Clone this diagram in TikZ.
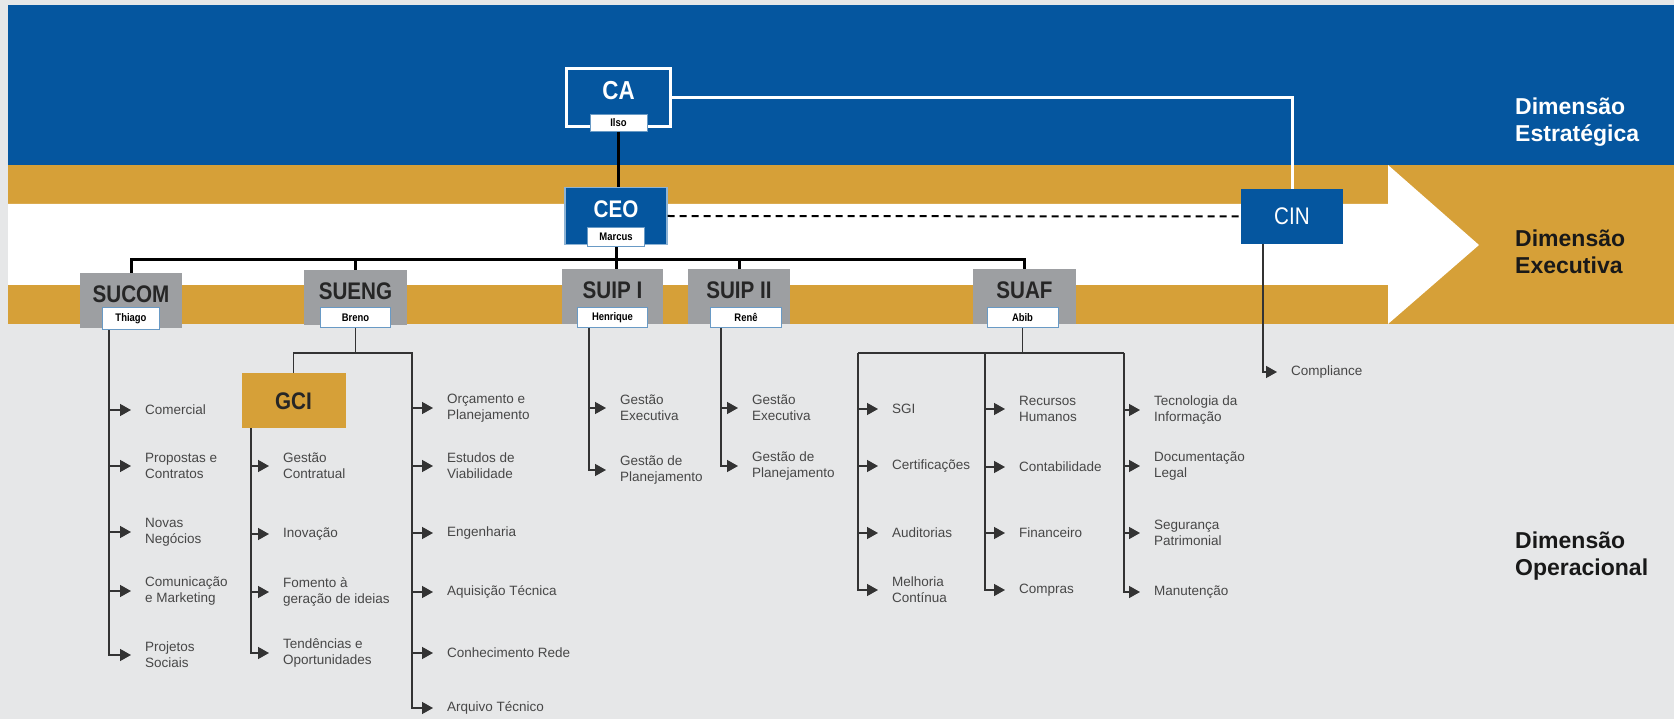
\documentclass[tikz,border=0pt]{standalone}
\usepackage{fontspec}
\setmainfont{Liberation Sans}
\newfontfamily\condfont[FakeStretch=0.86]{Liberation Sans}
\usetikzlibrary{arrows.meta,positioning}

\definecolor{bandblue}{RGB}{5,86,159}
\definecolor{bandgold}{RGB}{214,160,56}
\definecolor{opgrey}{RGB}{230,231,232}
\definecolor{boxgrey}{RGB}{157,159,162}

\begin{document}
\begin{tikzpicture}[
				x = 1pt, y = -1pt, % one unit per pixel, y going down
				> = {Triangle[length=11pt,width=12pt]}, % arrow head style
				unitbox/.style = {minimum width=102pt, minimum height=55pt, inner sep=0pt,
					text height=17pt, text depth=13pt,
					font=\condfont\bfseries\fontsize{24}{24}\selectfont},
				bluebox/.style = {unitbox, fill=bandblue, text=white},
				greybox/.style = {unitbox, fill=boxgrey, text=black!85},
				nametag/.style = {fill=white, draw=bandblue!60, line width=1pt,
					minimum width=57pt, minimum height=20pt, inner sep=0pt,
					font=\condfont\bfseries\fontsize{11}{11}\selectfont},
				item/.style = {anchor=west, align=left, inner sep=0pt, text=black!72,
					font=\fontsize{13.5}{16}\selectfont},
				branch/.style = {line width=1.5pt, draw=black!80},
				tobranch/.style = {branch, ->, shorten >=14pt},
				bus/.style = {line width=3pt},
				dimlabel/.style = {anchor=west, align=left, inner sep=0pt,
					font=\bfseries\fontsize{23}{27}\selectfont}
				]
				
				% bands
				\useasboundingbox (0,0) rectangle (1674,719);
				\fill[opgrey] (0,0) rectangle (1674,719);
				\fill[bandblue] (8,5) rectangle (1674,165);
				\fill[bandgold] (8,165) rectangle (1674,324);
				\fill[white] (8,204) -- (1388,204) -- (1388,165) -- (1479,245)
					-- (1388,324) -- (1388,285) -- (8,285) -- cycle;
				
				\node[dimlabel, text=white] (strat) at (1515,122) {Dimensão\\Estratégica};
				\node[dimlabel, text=black!90] (exec) at (1515,252) {Dimensão\\Executiva};
				\node[dimlabel, text=black!90] (oper) at (1515,556) {Dimensão\\Operacional};
				
				% top of the chart
				\node[bluebox, draw=white, line width=3pt, minimum width=104pt, minimum height=58pt,
					font=\condfont\bfseries\fontsize{26}{26}\selectfont] (ca) at (618.5,97.5) {CA};
				\node[nametag, minimum height=17pt, above=-4pt of ca.south] (ca-tag) {Ilso};
				\node[bluebox, draw=white!55!bandblue, line width=1.2pt, minimum height=57pt] (ceo) at (616,216) {CEO};
				\node[nametag, minimum height=19pt, above=-2pt of ceo.south] (ceo-tag) {Marcus};
				\node[bluebox, text height=17pt, text depth=0pt,
					font=\condfont\fontsize{24}{24}\selectfont] (cin) at (1292,216.5) {CIN};
				
				% superintendences
				\node[greybox] (sucom) at (131,300.5) {SUCOM};
				\node[greybox, minimum width=103pt] (sueng) at (355.5,297.5) {SUENG};
				\node[greybox, minimum width=101pt] (suip1) at (612.5,297) {SUIP I};
				\node[greybox] (suip2) at (739,297) {SUIP II};
				\node[greybox, minimum width=103pt] (suaf) at (1024.5,297) {SUAF};
				\node[nametag, minimum height=22pt, above=-2pt of sucom.south] (sucom-tag) {Thiago};
				\node[nametag, minimum width=70pt, above=-3pt of sueng.south] (sueng-tag) {Breno};
				\node[nametag, minimum width=70pt, above=-3pt of suip1.south] (suip1-tag) {Henrique};
				\node[nametag, minimum width=71pt, above=-3pt of suip2.south, xshift=7pt] (suip2-tag) {Renê};
				\node[nametag, minimum width=71pt, above=-3pt of suaf.south, xshift=-2pt] (suaf-tag) {Abib};
				
				\node[unitbox, fill=bandgold, text=black!85, minimum width=104pt,
					text depth=0pt] (gci) at (293.5,400.5) {GCI};
				
				% areas
				\foreach \n/\y/\t in {com1/410/Comercial, com2/466/{Propostas e\\Contratos},
					com3/532/{Novas\\Negócios}, com4/591/{Comunicação\\e Marketing},
					com5/655/{Projetos\\Sociais}}
					\node[item] (\n) at (145,\y) {\t};
				\foreach \n/\y/\t in {gci1/466/{Gestão\\Contratual}, gci2/534/Inovação,
					gci3/592/{Fomento à\\geração de ideias}, gci4/653/{Tendências e\\Oportunidades}}
					\node[item] (\n) at (283,\y) {\t};
				\foreach \n/\y/\t in {eng1/408/{Orçamento e\\Planejamento}, eng2/466/{Estudos de\\Viabilidade},
					eng3/533/Engenharia, eng4/592/Aquisição Técnica,
					eng5/653/Conhecimento Rede, eng6/708/Arquivo Técnico}
					\node[item] (\n) at (447,\y) {\t};
				\foreach \n/\y/\t in {ipa1/408/{Gestão\\Executiva}, ipa2/470/{Gestão de\\Planejamento}}
					\node[item] (\n) at (620,\y) {\t};
				\foreach \n/\y/\t in {ipb1/408/{Gestão\\Executiva}, ipb2/466/{Gestão de\\Planejamento}}
					\node[item] (\n) at (752,\y) {\t};
				\foreach \n/\y/\t in {afa1/409/SGI, afa2/466/Certificações,
					afa3/533/Auditorias, afa4/590/{Melhoria\\Contínua}}
					\node[item] (\n) at (892,\y) {\t};
				\foreach \n/\y/\t in {afb1/409/{Recursos\\Humanos}, afb2/467/Contabilidade,
					afb3/533/Financeiro, afb4/590/Compras}
					\node[item] (\n) at (1019,\y) {\t};
				\foreach \n/\y/\t in {afc1/410/{Tecnologia da\\Informação}, afc2/466/{Documentação\\Legal},
					afc3/533/{Segurança\\Patrimonial}, afc4/592/Manutenção}
					\node[item] (\n) at (1154,\y) {\t};
				\node[item] (compliance) at (1291,372) {Compliance};
				
				% links at the top
				\draw[line width=2.5pt] (ca-tag.south) -- (ca-tag.south |- ceo.north);
				\draw[white, line width=3pt] (ca.east) -| (cin.north);
				\draw[line width=2pt, dash pattern=on 7pt off 5pt] (ceo.east) -- (cin.west);
				\draw[bus] (sucom.north) -- ++(0,-13) coordinate (bus) -| (suaf.north);
				\draw[bus] (ceo-tag.south) -- (ceo-tag.south |- suip1.north);
				\foreach \n in {sueng, suip2}
					\draw[bus] (\n.north) -- (\n.north |- bus);
				
				% links to the areas
				\draw[tobranch] (sucom-tag.south -| 109,0) |- (com5.west);
				\foreach \n in {com1, com2, com3, com4}
					\draw[tobranch] (109,0 |- \n.west) -- (\n.west);
				
				\draw[branch] (sueng-tag.south) -- (sueng-tag.south |- 0,353);
				\draw[tobranch] (gci.north) |- (412,353) |- (eng6.west);
				\foreach \n in {eng1, eng2, eng3, eng4, eng5}
					\draw[tobranch] (412,0 |- \n.west) -- (\n.west);
				\draw[tobranch] (gci.south -| 251,0) |- (gci4.west);
				\foreach \n in {gci1, gci2, gci3}
					\draw[tobranch] (251,0 |- \n.west) -- (\n.west);
				
				\draw[tobranch] (suip1-tag.south -| 589,0) |- (ipa2.west);
				\draw[tobranch] (589,0 |- ipa1.west) -- (ipa1.west);
				\draw[tobranch] (suip2-tag.south -| 721,0) |- (ipb2.west);
				\draw[tobranch] (721,0 |- ipb1.west) -- (ipb1.west);
				
				\draw[branch] (suaf-tag.south) -- (suaf-tag.south |- 0,353);
				\draw[branch] (858,353) -- (1124,353);
				\foreach \x/\c in {858/afa, 985/afb, 1124/afc} {
					\draw[tobranch] (\x,353) |- (\c4.west);
					\foreach \i in {1,2,3}
						\draw[tobranch] (\x,0 |- \c\i.west) -- (\c\i.west);
				}
				
				\draw[tobranch] (cin.south -| 1263,0) |- (compliance.west);
				
			\end{tikzpicture}
\end{document}
